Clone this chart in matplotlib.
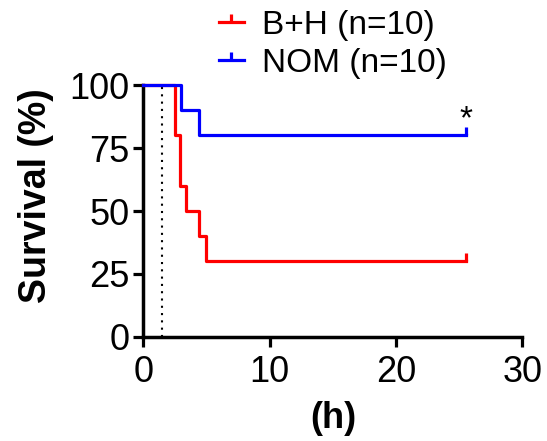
import numpy as np
import matplotlib
matplotlib.use("Agg")
import matplotlib.pyplot as plt

plt.rcParams['font.family'] = ['Liberation Sans', 'DejaVu Sans']

# survival data (Kaplan-Meier steps)
bh_time = [0, 2.5, 2.9, 3.4, 4.4, 5.0, 25.5]
bh_surv = [100, 80, 60, 50, 40, 30, 30]
nom_time = [0, 3.0, 4.4, 25.5]
nom_surv = [100, 90, 80, 80]
labels = ["B+H (n=10)", "NOM (n=10)"]
xticks = [0, 10, 20, 30]
yticks = [0, 25, 50, 75, 100]
marker_time = 1.5

fig = plt.figure(figsize=(5.47, 4.41), dpi=100)
ax = fig.add_axes([0.262, 0.236, 0.693, 0.571])

lw = 2.3
ax.step(bh_time, bh_surv, where="post", color="#ff0000", lw=lw, clip_on=False, zorder=3)
ax.step(nom_time, nom_surv, where="post", color="#0000ff", lw=lw, clip_on=False, zorder=4)
# censor ticks at the end
ax.plot(bh_time[-1], bh_surv[-1], marker=2, color="#ff0000", ms=6, mew=lw, clip_on=False, zorder=3)
ax.plot(nom_time[-1], nom_surv[-1], marker=2, color="#0000ff", ms=6, mew=lw, clip_on=False, zorder=4)

# dotted vertical line
ax.plot([marker_time, marker_time], [0, 100], color="black", lw=1.5, ls=(0, (1, 2.5)), zorder=2)

ax.text(nom_time[-1], nom_surv[-1], "*", fontsize=24, ha="center", va="bottom")

# legend handles
h1, = ax.plot([], [], color="#ff0000", lw=lw, marker=2, ms=6, mew=lw)
h2, = ax.plot([], [], color="#0000ff", lw=lw, marker=2, ms=6, mew=lw)
fig.legend([h1, h2], labels, loc="upper left", bbox_to_anchor=(0.345, 1.045),
           frameon=False, fontsize=24, handlelength=0.75, handletextpad=0.55,
           labelspacing=0.2, markerfirst=True)

ax.set_xlim(0, 30)
ax.set_ylim(0, 100)
ax.set_xticks(xticks)
ax.set_yticks(yticks)
ax.tick_params(labelsize=26, width=2.3, length=7, direction="out", pad=3)
ax.tick_params(axis="x", pad=6)
for s in ["top", "right"]:
    ax.spines[s].set_visible(False)
for s in ["left", "bottom"]:
    ax.spines[s].set_linewidth(2.5)

ax.set_ylabel("Survival (%)", fontsize=27, fontweight="bold")
ax.yaxis.set_label_coords(-0.235, 0.56)
ax.set_xlabel("(h)", fontsize=26, fontweight="bold", labelpad=8)

fig.savefig("out.png", dpi=100)
